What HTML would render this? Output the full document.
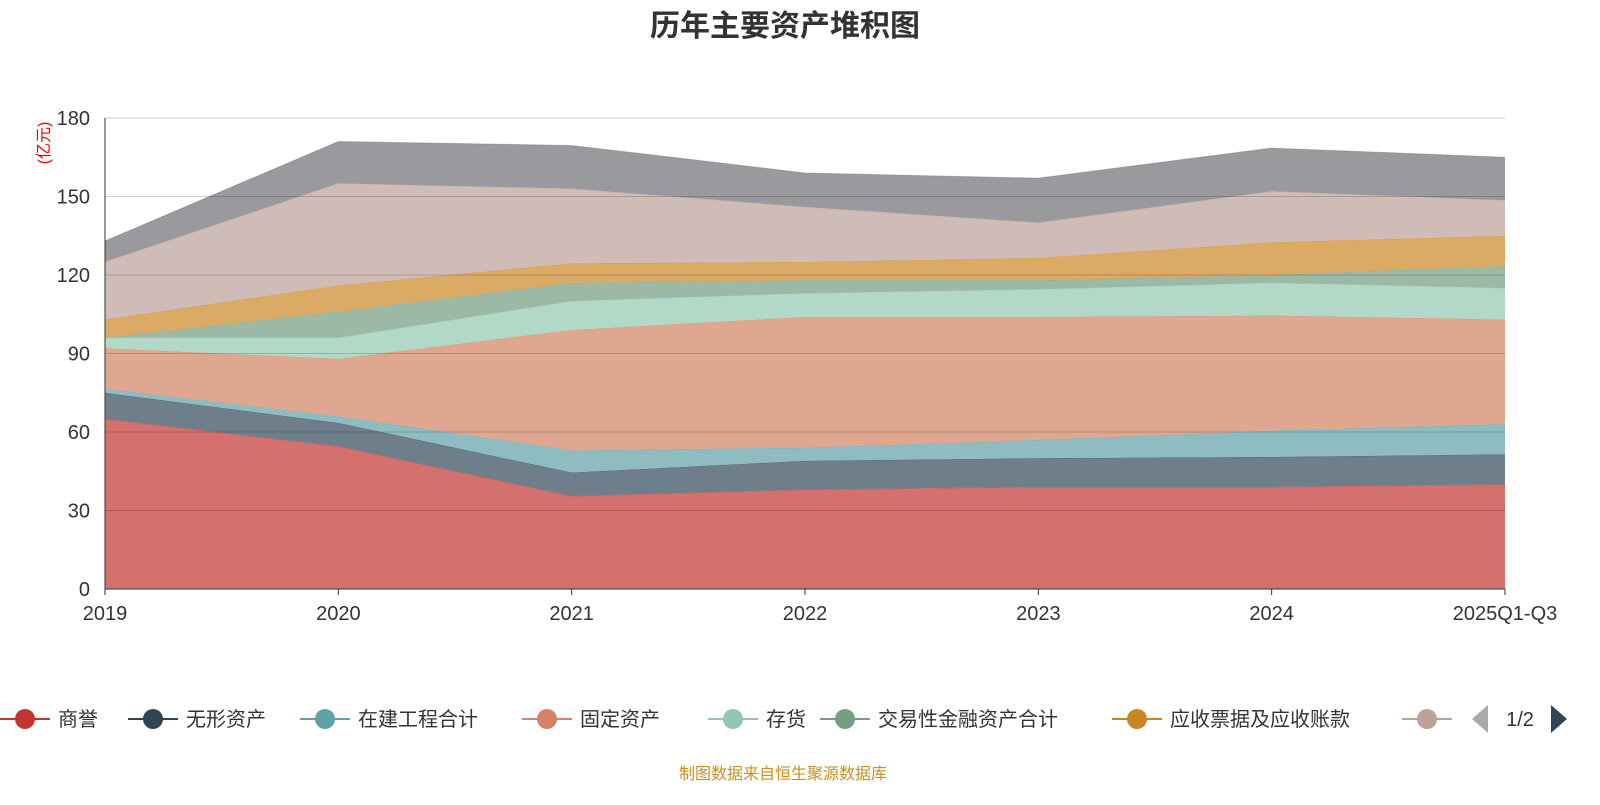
<!DOCTYPE html>
<html><head><meta charset="utf-8"><style>
body{margin:0;width:1600px;height:800px;background:#fff;overflow:hidden;font-family:"Liberation Sans","Noto Sans CJK SC",sans-serif}
</style></head><body>
<svg id="c" width="1600" height="800" xmlns="http://www.w3.org/2000/svg"></svg>
<script>
const categories=['2019','2020','2021','2022','2023','2024','2025Q1-Q3'];
const seriesNames=['商誉','无形资产','在建工程合计','固定资产','存货','交易性金融资产合计','应收票据及应收账款','其他资产','其他'];
const sGoodwill=[65,54.5,35.5,38,39,39,40];
const sIntangible=[10,9,9,11,11,11.5,11.5];
const sConstruction=[1.5,2.5,8.5,5,7,10,11.5];
const sFixed=[15.5,22,46,50,47,44,40];
const sInventory=[4,8,11,9,10.5,12.5,12];
const sTrading=[0,10,7,5,3.5,3,8.5];
const sReceivable=[7,10,7.5,7,8.5,12.5,11.5];
const sOther1=[22,39,28.5,21,13.5,19.5,13.5];
const sOther2=[8,16,16.5,13,17,16.5,16.5];
const yTicks=[0,30,60,90,120,150,180];
const series=[sGoodwill,sIntangible,sConstruction,sFixed,sInventory,sTrading,sReceivable,sOther1,sOther2];
const lineColors=['#c23531','#2f4554','#61a0a8','#d48265','#91c7ae','#749f83','#ca8622','#bda29a','#6e7074'];
const fillColors=['#d4706d','#6e7f8b','#8fbcc1','#dfa690','#b2d9c8','#9bb9a5','#dbaa64','#d0bcb6','#9a9a9e'];
const svg=document.getElementById('c');const NS='http://www.w3.org/2000/svg';
const X0=105,X1=1505,Y0=589,Y1=118;
const xs=i=>X0+i*(X1-X0)/(categories.length-1);
const ys=v=>Y0-(v/180)*(Y0-Y1);
function mk(t,a,txt){const e=document.createElementNS(NS,t);for(const k in a)e.setAttribute(k,a[k]);if(txt!==undefined)e.textContent=txt;svg.appendChild(e);return e;}
let t=mk('text',{x:785,y:36,'text-anchor':'middle','font-size':30,'font-weight':'bold',fill:'#333'},'历年主要资产堆积图');


let cum=categories.map(()=>0);
series.forEach((s,k)=>{
 const lo=cum.slice();const hi=cum.map((c,i)=>c+s[i]);
 let d='';hi.forEach((v,i)=>d+=(i?'L':'M')+xs(i)+','+ys(v));
 for(let i=lo.length-1;i>=0;i--)d+='L'+xs(i)+','+ys(lo[i]);
 const p=mk('path',{d:d+'Z',fill:fillColors[k],stroke:'none'});
 
 
 let ld='';hi.forEach((v,i)=>ld+=(i?'L':'M')+xs(i)+','+ys(v));
 const ln=mk('path',{d:ld,fill:'none',stroke:lineColors[k],'stroke-width':1,'stroke-opacity':0.4});
 
 
 cum=hi;
});
yTicks.forEach(v=>{
 if(v>0){const g=mk('line',{x1:X0,x2:X1,y1:ys(v),y2:ys(v),stroke:'#000','stroke-opacity':0.18});
 
 }
 const l=mk('text',{x:90,y:ys(v)+7,'text-anchor':'end','font-size':20,fill:'#333'},v);
 
 
});
mk('line',{x1:X0,x2:X0,y1:Y1,y2:Y0,stroke:'#333'});
mk('line',{x1:X0,x2:X1,y1:Y0,y2:Y0,stroke:'#333'});
categories.forEach((c,i)=>{
 mk('line',{x1:xs(i),x2:xs(i),y1:Y0,y2:Y0+6,stroke:'#333'});
 const l=mk('text',{x:xs(i),y:620,'text-anchor':'middle','font-size':20,fill:'#333'},c);
 
 
});
const yl=mk('text',{x:0,y:0,transform:'translate(49,143) rotate(-90)','text-anchor':'middle','font-size':16,fill:'#e00'},'(亿元)');


const lx=[0,128,300,522,708,820,1112,1402];
lx.forEach((x,k)=>{
 const g=document.createElementNS(NS,'g');svg.appendChild(g);
 
 
 const a=document.createElementNS(NS,'line');a.setAttribute('x1',x);a.setAttribute('x2',x+50);a.setAttribute('y1',719);a.setAttribute('y2',719);a.setAttribute('stroke',lineColors[k]);a.setAttribute('stroke-width',2);g.appendChild(a);
 const c=document.createElementNS(NS,'circle');c.setAttribute('cx',x+25);c.setAttribute('cy',719);c.setAttribute('r',10);c.setAttribute('fill',lineColors[k]);g.appendChild(c);
 if(k<7){const tx=document.createElementNS(NS,'text');tx.setAttribute('x',x+58);tx.setAttribute('y',726);tx.setAttribute('font-size',20);tx.setAttribute('fill','#333');tx.textContent=seriesNames[k];g.appendChild(tx);}
});
const pl=mk('path',{d:'M1472,719L1488,705L1488,733Z',fill:'#aaa'});


mk('text',{x:1520,y:726,'text-anchor':'middle','font-size':20,fill:'#333'},'1/2');
const pn=mk('path',{d:'M1567,719L1551,705L1551,733Z',fill:'#2f4554'});


const ft=mk('text',{x:783,y:779,'text-anchor':'middle','font-size':16,fill:'#c8901e'},'制图数据来自恒生聚源数据库');


</script>
</body></html>
